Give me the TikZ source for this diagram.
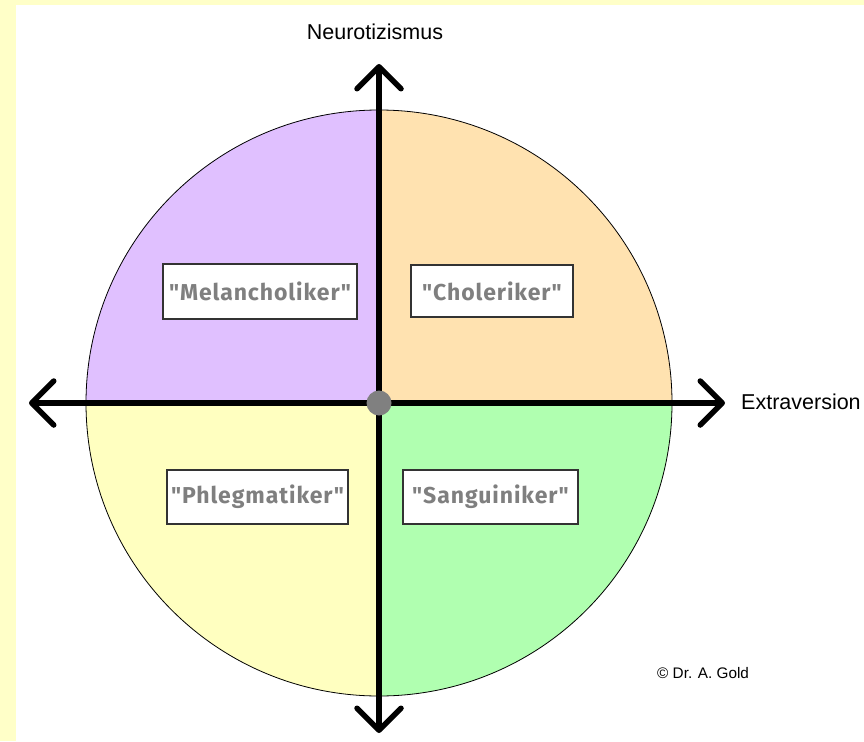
\documentclass[tikz,border=0pt]{standalone}
\usepackage{fontspec}
\setmainfont{Liberation Sans}
\newfontfamily\typefont[LetterSpace=4]{Fira Sans}
\usetikzlibrary{arrows.meta}
\definecolor{pageyellow}{HTML}{FFFFC8}
\definecolor{melan}{HTML}{E0C0FF}
\definecolor{chol}{HTML}{FFE2B0}
\definecolor{phleg}{HTML}{FFFFC0}
\definecolor{sang}{HTML}{B0FFB0}
\definecolor{typegray}{HTML}{7F7F7F}
\tikzset{
  typebox/.style={draw=black!80, line width=1.3pt, fill=white, inner sep=0pt,
    font=\typefont\bfseries\fontsize{23}{27}\selectfont, text=typegray},
  axis/.style={line width=5.5pt, draw=black,
    {Straight Barb[length=22pt,width=44pt,round]}-{Straight Barb[length=22pt,width=44pt,round]}},
  axislabel/.style={font=\fontsize{21.5}{26}\selectfont, inner sep=0pt},
}
\begin{document}
\begin{tikzpicture}[x=1pt,y=-1pt]
  \useasboundingbox (0,0) rectangle (864,741);
  % page frame: pale yellow strip on the left and top
  \fill[pageyellow] (0,0) rectangle (864,741);
  \fill[white] (16,5) rectangle (864,741);

  % the four temperament quadrants
  \coordinate (C) at (379,403);
  \begin{scope}
    \clip (C) circle[radius=293pt];
    \fill[melan] (C) rectangle (60,80);
    \fill[chol]  (C) rectangle (700,80);
    \fill[phleg] (C) rectangle (60,720);
    \fill[sang]  (C) rectangle (700,720);
  \end{scope}
  \draw[black, line width=0.8pt] (C) circle[radius=293pt];

  % axes
  \coordinate (top) at (379,64);
  \coordinate (bottom) at (379,733);
  \coordinate (left) at (29,403);
  \coordinate (right) at (725,403);
  \draw[axis] (bottom) -- (top);
  \draw[axis] (left) -- (right);
  \node[circle, fill=black!50, minimum size=25pt, inner sep=0pt] (origin) at (C) {};

  % axis labels
  \node[axislabel] (neuro) at (375,32) {Neurotizismus};
  \node[axislabel, anchor=west] (extra) at (741,402) {Extraversion};
  \node[anchor=west, inner sep=0pt, font=\fontsize{15.3}{18}\selectfont] (copy) at (657,673) {© Dr. A. Gold};

  % type labels
  \node[typebox, minimum width=194pt, minimum height=55pt] (melancholiker) at (260,291.5) {"Melancholiker"};
  \node[typebox, minimum width=162pt, minimum height=52pt] (choleriker) at (492,291) {"Choleriker"};
  \node[typebox, minimum width=181pt, minimum height=54pt] (phlegmatiker) at (257.5,497) {"Phlegmatiker"};
  \node[typebox, minimum width=175pt, minimum height=54pt] (sanguiniker) at (490.5,497) {"Sanguiniker"};
\end{tikzpicture}
\end{document}
